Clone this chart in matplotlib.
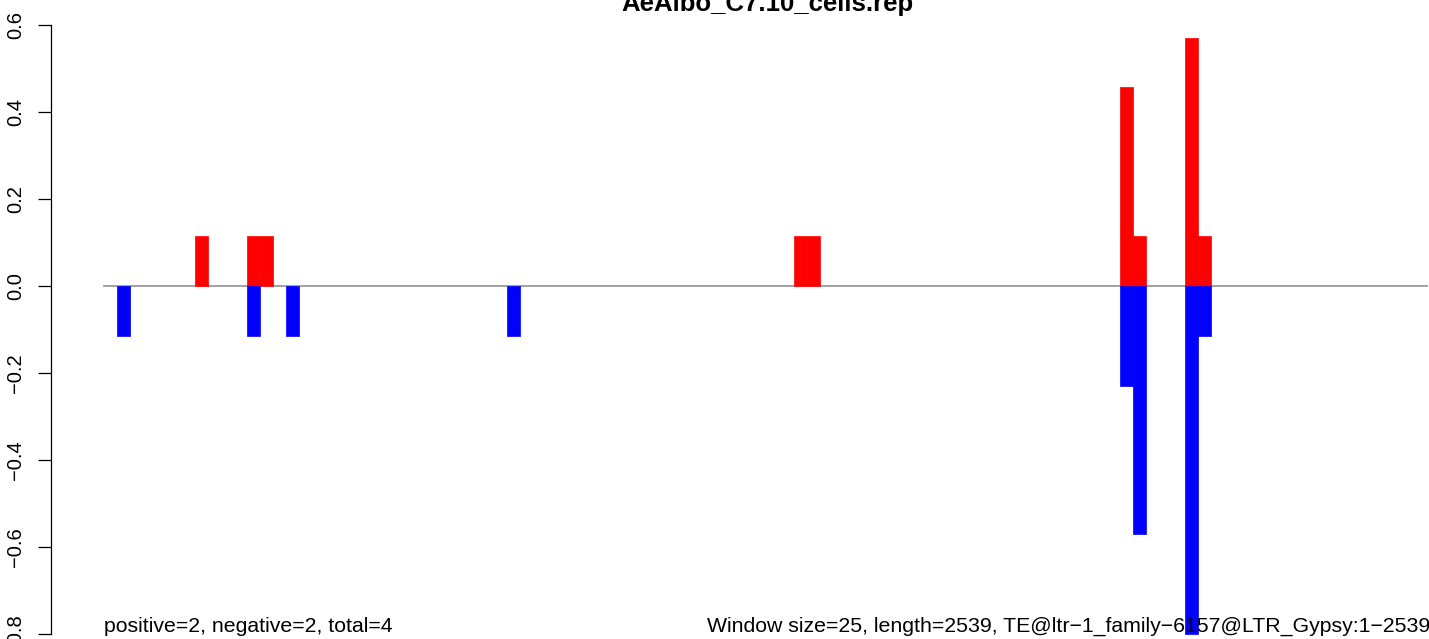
import matplotlib
matplotlib.use("Agg")
import matplotlib.pyplot as plt
import matplotlib.transforms as mtransforms

# data
title = "AeAlbo_C7.10_cells.rep"
window = 25
seq_len = 2539
pos_starts = [175, 275, 300, 1325, 1350, 1950, 1975, 2075, 2100]
pos_vals = [0.114, 0.114, 0.114, 0.114, 0.114, 0.457, 0.114, 0.571, 0.114]
neg_starts = [25, 275, 350, 775, 1950, 1975, 2075, 2100]
neg_vals = [-0.114, -0.114, -0.114, -0.114, -0.229, -0.571, -0.8, -0.114]
yticks = [-0.8, -0.6, -0.4, -0.2, 0.0, 0.2, 0.4, 0.6]
left_note = "positive=2, negative=2, total=4"
right_note = "Window size=25, length=2539, TE@ltr\u22121_family\u22126157@LTR_Gypsy:1\u22122539"

W, H, DPI = 1429, 639, 100
plt.rcParams['font.family'] = ['Liberation Sans', 'DejaVu Sans']

fig = plt.figure(figsize=(W / DPI, H / DPI), dpi=DPI)

# pixel layout of the plot region
ax_left_px = 50.7
x0_px = 103.5          # pixel of bp 0
px_per_bp = 13.03 / window
y0_px = 286.0          # pixel of value 0
px_per_unit = 435.0

xlim = ((ax_left_px - x0_px) / px_per_bp, (W - x0_px) / px_per_bp)
ylim = ((y0_px - H) / px_per_unit, y0_px / px_per_unit)

ax = fig.add_axes([ax_left_px / W, 0, 1 - ax_left_px / W, 1])
ax.set_xlim(*xlim)
ax.set_ylim(*ylim)

ax.plot([0, seq_len], [0, 0], color='#9a9a9a', lw=1.3, zorder=1)
ax.bar(pos_starts, pos_vals, width=window, align='edge', color='#ff0000',
       edgecolor='#ff0000', linewidth=0.5, zorder=2)
ax.bar(neg_starts, neg_vals, width=window, align='edge', color='#0000ff',
       edgecolor='#0000ff', linewidth=0.5, zorder=2)

for s in ['top', 'right', 'bottom']:
    ax.spines[s].set_visible(False)
ax.spines['left'].set_bounds(yticks[0], yticks[-1])
ax.spines['left'].set_linewidth(0.9)
ax.set_xticks([])
ax.set_yticks(yticks)
ax.set_yticklabels([f"{t:.1f}".replace('-', '\u2212') for t in yticks],
                   rotation=90, va='center', fontsize=14.5)
ax.tick_params(axis='y', length=9.4, width=0.9, pad=9)

fig.text(767 / W, (H - 11) / H, title, ha='center', va='baseline',
         fontsize=18.5, fontweight='bold')

trans = mtransforms.blended_transform_factory(ax.transData, fig.transFigure)
ax.text(0, (H - 632) / H, left_note, transform=trans, ha='left',
        va='baseline', fontsize=15.3)
fig.text(707 / W, (H - 632) / H, right_note, ha='left', va='baseline',
         fontsize=15.3)

fig.savefig("out.png", dpi=DPI)
